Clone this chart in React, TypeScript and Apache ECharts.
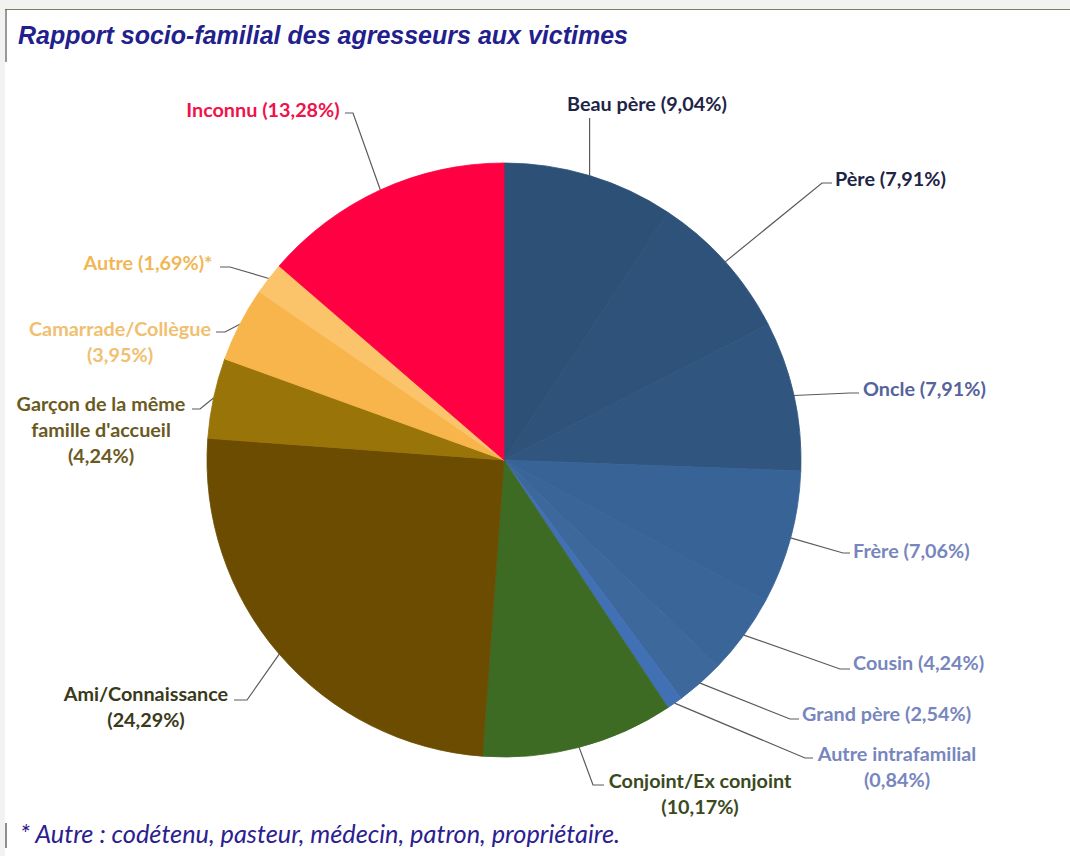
import React, { useEffect, useRef } from "react";
import * as echarts from "echarts";

const categories = [
  "Beau père",
  "Père",
  "Oncle",
  "Frère",
  "Cousin",
  "Grand père",
  "Autre intrafamilial",
  "Conjoint/Ex conjoint",
  "Ami/Connaissance",
  "Garçon de la même\nfamille d'accueil",
  "Camarrade/Collègue",
  "Autre",
  "Inconnu",
];
const percentages = [9.04, 7.91, 7.91, 7.06, 4.24, 2.54, 0.84, 10.17, 24.29, 4.24, 3.95, 1.69, 13.28];
const nameSuffix = ["", "", "", "", "", "", "", "", "", "", "", "*", ""];
const breakBeforeValue = [false, false, false, false, false, false, true, true, true, true, true, false, false];

const sliceColors = [
  "#2d5077", "#2e5279", "#30567f", "#386396", "#3a6599", "#3c689c", "#4270b5",
  "#3e6b24", "#6b4c00", "#997409", "#f7b54b", "#fbc36a", "#ff0042",
];
const labelColors = [
  "#1e2447", "#1e2447", "#55639a", "#7786bd", "#7786bd", "#7786bd", "#7786bd",
  "#3b4a1e", "#3a3a1a", "#6a5a1e", "#f0c070", "#f1b757", "#f0124a",
];

// label anchor layout: [x, firstLineCenterY, align, lineElbowX, lineElbowY, lineEndX, lineEndY]
const labelLayoutInfo: [number, number, string, number, number, number, number][] = [
  [567, 103, "left", -1, 118, -1, 118],
  [835, 178, "left", 822, 183, 832, 183],
  [863, 388, "left", 850, 393, 859, 393],
  [853, 550, "left", 843, 553, 850, 553],
  [853, 662, "left", 840, 669, 850, 669],
  [802, 713, "left", 790, 719, 799, 719],
  [897, 753, "center", 805, 758, 813, 758],
  [700, 780, "center", 593, 785, 604, 785],
  [146, 693, "center", 247, 700, 234, 700],
  [101, 403, "center", 200, 409, 192, 409],
  [120, 328, "center", 225, 332, 216, 332],
  [148, 262, "center", 230, 267, 220, 267],
  [263, 109, "center", 353, 113, 345, 113],
];

const LINE_H = 26;

export default function App() {
  const ref = useRef<HTMLDivElement>(null);
  useEffect(() => {
    document.body.style.margin = "0";
    const chart = echarts.init(ref.current!, null, { renderer: "svg" });
    const data = categories.map((n, i) => ({
      name: n,
      value: percentages[i],
      itemStyle: { color: sliceColors[i], borderColor: sliceColors[i], borderWidth: 0.8 },
      label: { color: labelColors[i] },
    }));
    chart.setOption({
      animation: false,
      backgroundColor: "#ffffff",
      title: {
        text: "Rapport socio-familial des agresseurs aux victimes",
        left: 13,
        top: 17,
        textStyle: {
          fontFamily: "Liberation Sans",
          fontStyle: "italic",
          fontWeight: "bold",
          fontSize: 25,
          color: "#22208c",
        },
      },
      graphic: [
        { type: "rect", shape: { x: 0, y: 0, width: 1070, height: 9 }, style: { fill: "#f2f2f0" }, silent: true },
        { type: "rect", shape: { x: 0, y: 0, width: 5, height: 856 }, style: { fill: "#f2f2f0" }, silent: true },
        { type: "line", shape: { x1: 5, y1: 9.5, x2: 1070, y2: 9.5 }, style: { stroke: "#7b7b5e", lineWidth: 1.2 }, silent: true },
        { type: "line", shape: { x1: 6, y1: 9.5, x2: 6, y2: 62 }, style: { stroke: "#555555", lineWidth: 1.2 }, silent: true },
        { type: "line", shape: { x1: 6, y1: 823, x2: 6, y2: 848 }, style: { stroke: "#444444", lineWidth: 1.2 }, silent: true },
        {
          type: "text",
          x: 20,
          y: 833,
          style: {
            text: "* Autre : codétenu, pasteur, médecin, patron, propriétaire.",
            fontFamily: "Lato",
            fontStyle: "italic",
            fontSize: 25.3,
            fill: "#2b2090",
            verticalAlign: "middle",
          },
          silent: true,
        },
      ],
      series: [
        {
          type: "pie",
          center: [504, 460],
          radius: 297,
          startAngle: 90,
          clockwise: true,
          avoidLabelOverlap: false,
          data,
          label: {
            show: true,
            position: "outside",
            fontFamily: "Lato",
            fontWeight: "bold",
            fontSize: 19.8,
            lineHeight: LINE_H,
            overflow: "none",
            formatter: (p: any) => {
              const i = p.dataIndex;
              const v = percentages[i].toFixed(2).replace(".", ",");
              return `${categories[i]}${breakBeforeValue[i] ? "\n" : " "}(${v}%)${nameSuffix[i]}`;
            },
          },
          labelLine: {
            show: true,
            length: 10,
            length2: 10,
            lineStyle: { color: "#5a5a5a", width: 1.2 },
          },
          labelLayout: (params: any) => {
            const i = params.dataIndex;
            const L = labelLayoutInfo[i];
            const start = params.labelLinePoints ? params.labelLinePoints[0] : [0, 0];
            const ex = L[3] < 0 ? start[0] : L[3];
            const ex2 = L[5] < 0 ? start[0] : L[5];
            return {
              x: L[0],
              y: L[1] - LINE_H / 2,
              align: L[2],
              verticalAlign: "top",
              labelLinePoints: [start, [ex, L[4]], [ex2, L[6]]],
            };
          },
        },
      ],
    });
    return () => chart.dispose();
  }, []);
  return <div ref={ref} style={{ width: 1070, height: 856 }} />;
}
